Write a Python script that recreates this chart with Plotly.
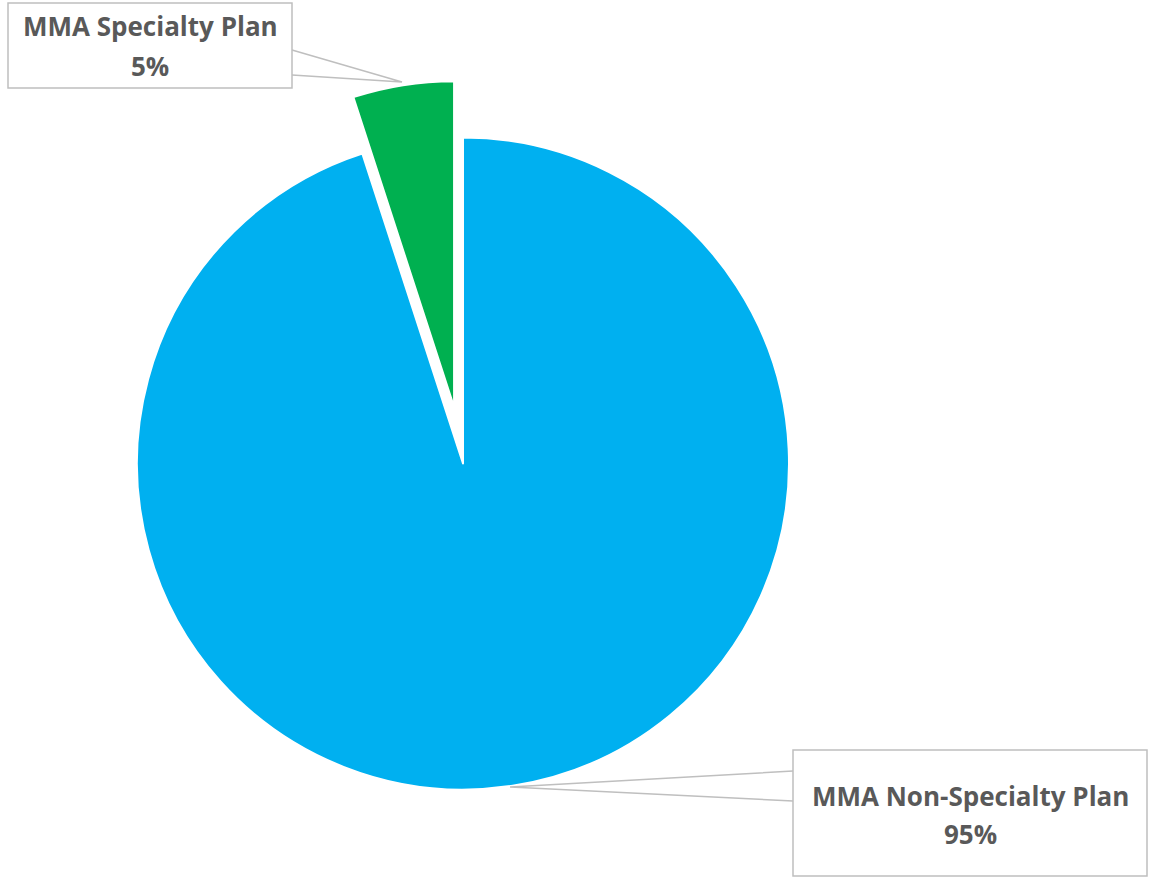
import plotly.graph_objects as go

labels = ["MMA Non-Specialty Plan", "MMA Specialty Plan"]
values = [95, 5]
colors = ["#00B0F0", "#00B050"]
pulls = [0, 0.175]

W, H = 1149, 879

def px(x):
    return x / W

def py(y):
    return 1 - y / H

# pie geometry (pixels)
cx, cy, r = 463, 463.5, 326
half = r * (1 + max(pulls))

fig = go.Figure(go.Pie(
    labels=labels, values=values, sort=False, direction="clockwise",
    rotation=0, pull=pulls, textinfo="none", hoverinfo="label+percent",
    marker=dict(colors=colors, line=dict(color="white", width=2)),
    domain=dict(x=[px(cx - half), px(cx + half)], y=[py(cy + half), py(cy - half)]),
    showlegend=False,
))

font = dict(family="Open Sans, Lato, Liberation Sans, sans-serif", size=26, color="#595959")

# label boxes per slice: (left, top, right, bottom) in pixels, and two text-line centres
boxes = {"MMA Specialty Plan": (8, 3, 292, 88, 26, 66),
         "MMA Non-Specialty Plan": (793, 750, 1147, 876, 796, 834)}
# callout wedges: (y1 on box edge, y2 on box edge, tip x, tip y, edge x)
wedges = {"MMA Specialty Plan": (50, 75, 402, 82, 292),
          "MMA Non-Specialty Plan": (771, 801, 510, 787, 793)}

shapes = []
annotations = []
total = sum(values)
for lab, val in zip(labels, values):
    l, t, rr, b, ly1, ly2 = boxes[lab]
    pct = round(100 * val / total)
    shapes.append(dict(type="rect", xref="paper", yref="paper",
                       x0=px(l), x1=px(rr), y0=py(b), y1=py(t),
                       line=dict(color="#BFBFBF", width=1.5), fillcolor="white", layer="above"))
    for txt, yy in ((lab, ly1), (f"{pct}%", ly2)):
        annotations.append(dict(
            x=px((l + rr) / 2), y=py(yy), xref="paper", yref="paper",
            xanchor="center", yanchor="middle", showarrow=False,
            text=f"<b>{txt}</b>", font=font, align="center",
        ))
    y1, y2, tx, ty, ex = wedges[lab]
    shapes.append(dict(
        type="path", xref="paper", yref="paper",
        path=f"M {px(ex)} {py(y1)} L {px(tx)} {py(ty)} L {px(ex)} {py(y2)}",
        line=dict(color="#BFBFBF", width=1.5), fillcolor="rgba(0,0,0,0)", layer="above",
    ))

fig.update_layout(
    width=W, height=H, margin=dict(l=0, r=0, t=0, b=0),
    paper_bgcolor="white", plot_bgcolor="white",
    annotations=annotations, shapes=shapes,
)

fig.write_html("out.html")
